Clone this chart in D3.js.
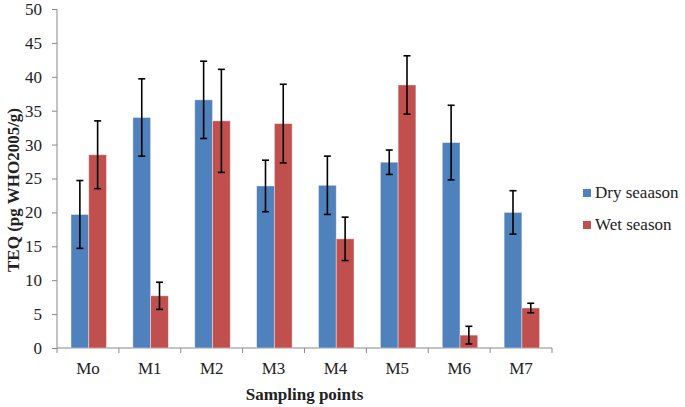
<!DOCTYPE html>
<html><head><meta charset="utf-8">
<script src="https://cdn.jsdelivr.net/npm/d3@7"></script>
<style>body{margin:0;background:#fff}svg{display:block}</style>
</head><body>
<svg id="c" width="685" height="407"></svg>
<script>
const categories = ["Mo","M1","M2","M3","M4","M5","M6","M7"];
const seriesNames = ["Dry seaason","Wet season"];
const dryValues = [19.7, 34.0, 36.6, 23.9, 24.0, 27.4, 30.3, 20.0];
const wetValues = [28.5, 7.7, 33.5, 33.1, 16.1, 38.8, 1.9, 5.9];
const dryErrors = [5.0, 5.7, 5.7, 3.8, 4.3, 1.8, 5.5, 3.2];
const wetErrors = [5.0, 2.0, 7.6, 5.8, 3.2, 4.3, 1.3, 0.7];
const yTicks = [0,5,10,15,20,25,30,35,40,45,50];
const colors = ["#4F81BD","#C0504D"];

(function(){
const svg = d3.select("#c");
const mL = 57, mR = 552, mT = 9, mB = 348;
const x = d3.scaleBand().domain(categories).range([mL, mR]).paddingInner(0).paddingOuter(0);
const y = d3.scaleLinear().domain([0,50]).range([mB, mT]);
const x1 = d3.scaleBand().domain([0,1]).range([14, 49.5]);

const font = "'Liberation Serif','Times New Roman',serif";
const fs = 17;

// y axis
const ya = svg.append("g").attr("transform",`translate(${mL},0)`)
  .call(d3.axisLeft(y).tickValues(yTicks).tickSize(5).tickPadding(10));
ya.select(".domain").attr("stroke","#888").attr("d",`M0,${y(0)}V${y(50)}`);
ya.selectAll(".tick line").attr("stroke","#888");
ya.selectAll("text").attr("font-family",font).attr("font-size",fs).attr("fill","#222");

// x axis
const xa = svg.append("g").attr("transform",`translate(0,${mB})`)
  .call(d3.axisBottom(x).tickSize(0).tickPadding(14));
xa.select(".domain").attr("stroke","#888").attr("d",`M${mL},0H${mR}`);
xa.selectAll("text").attr("font-family",font).attr("font-size",fs).attr("fill","#222");
xa.selectAll(".sep").data(categories.concat(["_end"])).enter().append("line")
  .attr("x1",(d,i)=> mL + i*x.bandwidth()).attr("x2",(d,i)=> mL + i*x.bandwidth())
  .attr("y1",0).attr("y2",5).attr("stroke","#888");

// bars
const series = [dryValues, wetValues];
const errs = [dryErrors, wetErrors];
series.forEach((vals, s) => {
  svg.append("g").selectAll("rect").data(vals).enter().append("rect")
    .attr("x",(d,i)=> x(categories[i]) + x1(s))
    .attr("y",d=> y(d))
    .attr("width",x1.bandwidth())
    .attr("height",d=> y(0)-y(d))
    .attr("fill",colors[s])
    .attr("stroke","#fff").attr("stroke-opacity",0.5).attr("stroke-width",0.8);
});
// error bars
series.forEach((vals, s) => {
  const g = svg.append("g").attr("stroke","#000").attr("stroke-width",1.6);
  vals.forEach((v,i) => {
    const cx = x(categories[i]) + x1(s) + x1.bandwidth()/2;
    const hi = y(v + errs[s][i]), lo = y(Math.max(0, v - errs[s][i]));
    g.append("line").attr("x1",cx).attr("x2",cx).attr("y1",hi).attr("y2",lo);
    g.append("line").attr("x1",cx-3.5).attr("x2",cx+3.5).attr("y1",hi).attr("y2",hi);
    g.append("line").attr("x1",cx-3.5).attr("x2",cx+3.5).attr("y1",lo).attr("y2",lo);
  });
});

// axis titles
svg.append("text").attr("x",(mL+mR)/2).attr("y",400).attr("text-anchor","middle")
  .attr("font-family",font).attr("font-size",fs).attr("font-weight","bold").attr("fill","#222")
  .text("Sampling points");
svg.append("text").attr("transform","translate(19,190) rotate(-90)").attr("text-anchor","middle")
  .attr("font-family",font).attr("font-size",fs).attr("font-weight","bold").attr("fill","#222")
  .text("TEQ (pg WHO2005/g)");

// legend
const lg = svg.append("g").attr("transform","translate(583,0)");
seriesNames.forEach((n,i) => {
  const yy = 189 + i*32;
  lg.append("rect").attr("x",0).attr("y",yy).attr("width",8).attr("height",8).attr("fill",colors[i]);
  lg.append("text").attr("x",12).attr("y",yy+9).attr("font-family",font).attr("font-size",fs)
    .attr("fill","#222").text(n);
});
})();
</script>
</body></html>
